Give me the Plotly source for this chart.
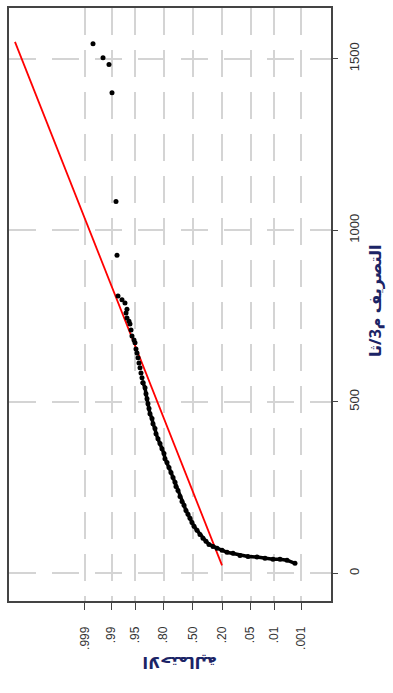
import plotly.graph_objects as go
from statistics import NormalDist

# ---- data ----
# normal quantile (probability-plot position) of each observation
normal_quantile = [2.857, 2.571, 2.400, 2.314, 2.200, 2.171, 2.143, 2.029, 1.943, 1.886,
                   1.914, 1.886, 1.829, 1.800, 1.771, 1.743, 1.686, 1.657, 1.629, 1.600,
                   1.571, 1.543, 1.514, 1.486, 1.457, 1.429, 1.371, 1.343, 1.314, 1.286,
                   1.257, 1.229, 1.171, 1.143, 1.086, 1.057, 1.000, 0.943, 0.886, 0.829,
                   0.800, 0.743, 0.686, 0.629, 0.571, 0.514, 0.486, 0.429, 0.371, 0.314,
                   0.257, 0.200, 0.143, 0.086, 0.029, -0.029, -0.114, -0.200, -0.286, -0.371,
                   -0.457, -0.571, -0.686, -0.829, -0.971, -1.143, -1.343, -1.571, -1.829, -2.057,
                   -2.286, -2.486, -2.686, -2.914]
discharge = [1544, 1503, 1483, 1401, 1084, 927, 808, 797, 788, 770,
             759, 744, 735, 727, 709, 692, 680, 672, 654, 642,
             628, 613, 599, 584, 570, 555, 541, 523, 509, 494,
             480, 465, 451, 436, 422, 407, 392, 378, 363, 349,
             334, 323, 308, 294, 279, 265, 253, 241, 224, 209,
             198, 183, 172, 160, 148, 137, 125, 113, 102, 93,
             84, 78, 73, 67, 61, 58, 52, 49, 47, 44,
             41, 41, 38, 29]

# fitted reference line (normal quantile, discharge)
fit_quantile = [5.086, -0.829]
fit_discharge = [1549, 23]

prob_ticks = [0.001, 0.01, 0.05, 0.20, 0.50, 0.80, 0.95, 0.99, 0.999]
prob_labels = [".001", ".01", ".05", ".20", ".50", ".80", ".95", ".99", ".999"]
discharge_ticks = [0, 500, 1000, 1500]

nd = NormalDist()
prob_pos = [nd.inv_cdf(p) for p in prob_ticks]

n_sparse = 26  # upper scattered points shown as separate dots

fig = go.Figure()
fig.add_trace(go.Scatter(
    x=fit_quantile, y=fit_discharge, mode="lines",
    line=dict(color="#ff0000", width=1.8), hoverinfo="skip", showlegend=False))
fig.add_trace(go.Scatter(
    x=normal_quantile[n_sparse - 1:], y=discharge[n_sparse - 1:], mode="lines+markers",
    line=dict(color="black", width=3.5),
    marker=dict(color="black", size=5), showlegend=False))
fig.add_trace(go.Scatter(
    x=normal_quantile[:n_sparse], y=discharge[:n_sparse], mode="markers",
    marker=dict(color="black", size=5), showlegend=False))

font_family = "Liberation Sans, Arial, sans-serif"
title_font = dict(size=16, color="#1b2466", family="Noto Sans, DejaVu Sans, sans-serif")
fig.update_layout(
    width=393, height=693,
    margin=dict(l=9, r=62, t=6, b=92),
    paper_bgcolor="white", plot_bgcolor="white",
    font=dict(family=font_family, size=11, color="#333333"),
    xaxis=dict(
        range=[5.257, -3.943], tickmode="array", tickvals=prob_pos, ticktext=prob_labels,
        tickangle=-90, ticks="outside", ticklen=7, tickwidth=1, tickcolor="#444444",
        ticklabelstandoff=12,
        showgrid=True, gridcolor="#d4d4d4", gridwidth=2, griddash="27px,15px",
        showline=True, linecolor="#444444", linewidth=1.5, mirror=True,
        zeroline=False, tickfont=dict(size=12, color="#333333")),
    yaxis=dict(
        range=[-81, 1648], side="right", tickmode="array", tickvals=discharge_ticks,
        tickangle=-90, ticks="outside", ticklen=5, tickwidth=1, tickcolor="#444444",
        ticklabelstandoff=6,
        showgrid=True, gridcolor="#d4d4d4", gridwidth=2, griddash="27px,16px",
        showline=True, linecolor="#444444", linewidth=1.5, mirror=True,
        zeroline=False, tickfont=dict(size=13, color="#333333")),
    annotations=[
        dict(text="<b>الاحتمالية</b>", xref="paper", yref="paper",
             x=(180 - 9) / 322, y=-(663 - 601) / 595, textangle=180,
             xanchor="center", yanchor="middle",
             showarrow=False, font=title_font),
        dict(text="<b>التصريف م3/ثا</b>", xref="paper", yref="paper",
             x=1 + (375 - 331) / 322, y=(601 - 300) / 595, textangle=-90,
             xanchor="center", yanchor="middle",
             showarrow=False, font=title_font),
    ],
)

fig.write_html("out.html", config={"displayModeBar": False},
               post_script="document.body.style.margin='0';document.body.style.padding='0';")
